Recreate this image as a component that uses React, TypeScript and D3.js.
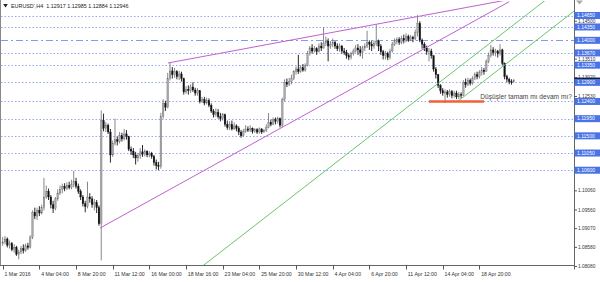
import React from 'react';
import * as d3 from 'd3';

const W = 600;
const H = 282;
const FONT = '"Liberation Sans", Arial, sans-serif';

// ---------- data (EURUSD H4) ----------
const firstOpen = 1.0868;
const closes = [
  1.0872, 1.0880, 1.0864, 1.0868, 1.0852, 1.0858, 1.0840, 1.0846, 1.0855, 1.0850,
  1.0862, 1.0858, 1.0885, 1.0950, 1.0940, 1.0955, 1.0948, 1.0962, 1.0990, 1.1005,
  1.0990, 1.0970, 1.0960, 1.0985, 1.1000, 1.1010, 1.1018, 1.1012, 1.1020, 1.1015,
  1.1022, 1.1030, 1.1018, 1.1005, 1.0990, 1.0972, 1.0965, 1.0990, 1.0985, 1.0970,
  1.0975, 1.0962, 1.0920, 1.1190, 1.1170, 1.1178, 1.1160, 1.1100, 1.1130, 1.1140,
  1.1135, 1.1150, 1.1142, 1.1155, 1.1148, 1.1115, 1.1110, 1.1100, 1.1092, 1.1098,
  1.1108, 1.1102, 1.1110, 1.1100, 1.1104, 1.1096, 1.1080, 1.1072, 1.1070, 1.1200,
  1.1235, 1.1225, 1.1300, 1.1320, 1.1310, 1.1318, 1.1305, 1.1312, 1.1300, 1.1265,
  1.1272, 1.1268, 1.1278, 1.1270, 1.1262, 1.1268, 1.1240, 1.1245, 1.1236, 1.1242,
  1.1230, 1.1215, 1.1205, 1.1212, 1.1200, 1.1195, 1.1205, 1.1180, 1.1172, 1.1180,
  1.1168, 1.1176, 1.1170, 1.1160, 1.1150, 1.1162, 1.1168, 1.1165, 1.1170, 1.1162,
  1.1166, 1.1160, 1.1168, 1.1160, 1.1164, 1.1172, 1.1185, 1.1180, 1.1192, 1.1188,
  1.1195, 1.1178, 1.1245, 1.1290, 1.1285, 1.1292, 1.1300, 1.1318, 1.1325, 1.1318,
  1.1328, 1.1322, 1.1335, 1.1365, 1.1380, 1.1372, 1.1378, 1.1370, 1.1385, 1.1380,
  1.1392, 1.1398, 1.1385, 1.1390, 1.1395, 1.1385, 1.1378, 1.1385, 1.1372, 1.1368,
  1.1360, 1.1356, 1.1365, 1.1372, 1.1380, 1.1375, 1.1368, 1.1380, 1.1385, 1.1395,
  1.1390, 1.1385, 1.1392, 1.1398, 1.1385, 1.1370, 1.1360, 1.1366, 1.1355, 1.1372,
  1.1390, 1.1396, 1.1402, 1.1395, 1.1405, 1.1400, 1.1410, 1.1402, 1.1408, 1.1404,
  1.1420, 1.1445, 1.1400, 1.1390, 1.1380, 1.1370, 1.1372, 1.1360, 1.1325, 1.1310,
  1.1282, 1.1268, 1.1262, 1.1265, 1.1258, 1.1266, 1.1255, 1.1262, 1.1252, 1.1258,
  1.1256, 1.1290, 1.1284, 1.1295, 1.1288, 1.1300, 1.1310, 1.1305, 1.1315, 1.1322,
  1.1318, 1.1345, 1.1360, 1.1375, 1.1368, 1.1372, 1.1365, 1.1375, 1.1340, 1.1305,
  1.1298, 1.1292, 1.12917, 1.12946,
];
const highs = [
  1.0885, 1.0888, 1.0884, 1.0876, 1.0872, 1.0866, 1.0862, 1.0852, 1.0862, 1.0866,
  1.0868, 1.0870, 1.0890, 1.0955, 1.0962, 1.0962, 1.0966, 1.0970, 1.1040, 1.1020,
  1.1012, 1.0995, 1.0980, 1.0990, 1.1010, 1.1020, 1.1025, 1.1026, 1.1028, 1.1030,
  1.1035, 1.1058, 1.1040, 1.1025, 1.1010, 1.0995, 1.0980, 1.1030, 1.1000, 1.0992,
  1.0985, 1.0982, 1.0968, 1.1216, 1.1208, 1.1186, 1.1182, 1.1168, 1.1138, 1.1195,
  1.1148, 1.1160, 1.1158, 1.1168, 1.1165, 1.1150, 1.1122, 1.1118, 1.1108, 1.1105,
  1.1118, 1.1126, 1.1115, 1.1112, 1.1110, 1.1108, 1.1100, 1.1088, 1.1082, 1.1210,
  1.1246, 1.1242, 1.1315, 1.1341, 1.1330, 1.1328, 1.1322, 1.1320, 1.1318, 1.1302,
  1.1280, 1.1282, 1.1285, 1.1290, 1.1276, 1.1275, 1.1270, 1.1252, 1.1252, 1.1250,
  1.1248, 1.1235, 1.1220, 1.1222, 1.1220, 1.1210, 1.1210, 1.1208, 1.1190, 1.1188,
  1.1190, 1.1185, 1.1180, 1.1175, 1.1165, 1.1168, 1.1178, 1.1175, 1.1178, 1.1172,
  1.1170, 1.1170, 1.1172, 1.1170, 1.1168, 1.1180, 1.1210, 1.1192, 1.1198, 1.1198,
  1.1200, 1.1198, 1.1250, 1.1298, 1.1300, 1.1302, 1.1310, 1.1322, 1.1332, 1.1362,
  1.1335, 1.1338, 1.1340, 1.1372, 1.1385, 1.1390, 1.1385, 1.1382, 1.1392, 1.1395,
  1.1435, 1.1410, 1.1405, 1.1398, 1.1405, 1.1398, 1.1392, 1.1392, 1.1388, 1.1380,
  1.1375, 1.1366, 1.1370, 1.1378, 1.1388, 1.1390, 1.1385, 1.1386, 1.1392, 1.1425,
  1.1400, 1.1398, 1.1400, 1.1442, 1.1402, 1.1390, 1.1375, 1.1372, 1.1370, 1.1378,
  1.1396, 1.1405, 1.1408, 1.1408, 1.1412, 1.1415, 1.1418, 1.1415, 1.1414, 1.1412,
  1.1428, 1.1466, 1.1450, 1.1405, 1.1395, 1.1386, 1.1380, 1.1378, 1.1360, 1.1330,
  1.1312, 1.1285, 1.1275, 1.1272, 1.1270, 1.1272, 1.1270, 1.1268, 1.1268, 1.1265,
  1.1264, 1.1296, 1.1300, 1.1302, 1.1300, 1.1306, 1.1316, 1.1318, 1.1322, 1.1330,
  1.1328, 1.1350, 1.1368, 1.1388, 1.1382, 1.1378, 1.1375, 1.1390, 1.1378, 1.1342,
  1.1310, 1.1302, 1.1298, 1.12985,
];
const lows = [
  1.0862, 1.0866, 1.0858, 1.0855, 1.0848, 1.0844, 1.0836, 1.0827, 1.0840, 1.0842,
  1.0846, 1.0852, 1.0855, 1.0880, 1.0932, 1.0930, 1.0940, 1.0944, 1.0955, 1.0985,
  1.0982, 1.0960, 1.0948, 1.0955, 1.0980, 1.0995, 1.1000, 1.1005, 1.1008, 1.1010,
  1.1010, 1.1015, 1.1012, 1.0998, 1.0982, 1.0965, 1.0950, 1.0960, 1.0975, 1.0962,
  1.0955, 1.0948, 1.0915, 1.0824, 1.1162, 1.1160, 1.1155, 1.1080, 1.1095, 1.1125,
  1.1125, 1.1130, 1.1135, 1.1138, 1.1140, 1.1110, 1.1100, 1.1092, 1.1075, 1.1082,
  1.1090, 1.1095, 1.1096, 1.1094, 1.1094, 1.1090, 1.1072, 1.1062, 1.1060, 1.1064,
  1.1195, 1.1215, 1.1222, 1.1295, 1.1300, 1.1302, 1.1298, 1.1296, 1.1292, 1.1258,
  1.1260, 1.1258, 1.1262, 1.1265, 1.1255, 1.1255, 1.1235, 1.1236, 1.1230, 1.1232,
  1.1225, 1.1210, 1.1198, 1.1200, 1.1195, 1.1188, 1.1190, 1.1174, 1.1166, 1.1165,
  1.1164, 1.1166, 1.1162, 1.1152, 1.1145, 1.1148, 1.1158, 1.1160, 1.1160, 1.1156,
  1.1158, 1.1155, 1.1156, 1.1155, 1.1158, 1.1160, 1.1170, 1.1175, 1.1178, 1.1180,
  1.1182, 1.1172, 1.1172, 1.1240, 1.1278, 1.1280, 1.1285, 1.1296, 1.1310, 1.1312,
  1.1315, 1.1318, 1.1318, 1.1332, 1.1360, 1.1365, 1.1368, 1.1362, 1.1368, 1.1372,
  1.1378, 1.1385, 1.1345, 1.1378, 1.1382, 1.1378, 1.1372, 1.1370, 1.1365, 1.1362,
  1.1352, 1.1348, 1.1350, 1.1360, 1.1368, 1.1362, 1.1358, 1.1352, 1.1372, 1.1380,
  1.1375, 1.1372, 1.1378, 1.1385, 1.1372, 1.1362, 1.1350, 1.1350, 1.1348, 1.1350,
  1.1368, 1.1385, 1.1390, 1.1388, 1.1390, 1.1392, 1.1395, 1.1396, 1.1398, 1.1395,
  1.1400, 1.1410, 1.1395, 1.1378, 1.1372, 1.1362, 1.1345, 1.1352, 1.1318, 1.1300,
  1.1275, 1.1260, 1.1255, 1.1236, 1.1250, 1.1252, 1.1248, 1.1250, 1.1246, 1.1246,
  1.1248, 1.1254, 1.1276, 1.1280, 1.1282, 1.1284, 1.1296, 1.1298, 1.1300, 1.1308,
  1.1310, 1.1318, 1.1340, 1.1355, 1.1360, 1.1358, 1.1355, 1.1360, 1.1335, 1.1298,
  1.1290, 1.1285, 1.1284, 1.12884,
];

const timeTickIndex = [0, 16, 32, 48, 64, 80, 96, 112, 128, 144, 160, 176, 192, 208];
const timeTickLabels = [
  '1 Mar 2016', '4 Mar 04:00', '8 Mar 20:00', '11 Mar 12:00', '16 Mar 00:00',
  '18 Mar 16:00', '23 Mar 04:00', '25 Mar 20:00', '30 Mar 12:00', '4 Apr 04:00',
  '6 Apr 20:00', '11 Apr 12:00', '14 Apr 04:00', '18 Apr 20:00',
];

// regular price-scale ticks that are visible (the others sit under level labels)
const priceTicks = [1.0808, 1.0858, 1.0907, 1.0956, 1.1006, 1.1253, 1.1302, 1.1351, 1.1450];
const priceTickLabels = ['1.08080', '1.08580', '1.09070', '1.09560', '1.10060', '1.12530',
  '1.13020', '1.13510', '1.14500'];

const levelPrices = [1.1465, 1.1435, 1.1400, 1.1367, 1.1335, 1.1290, 1.1240, 1.1195, 1.1150, 1.1105, 1.1060];
const levelLabels = ['1.14650', '1.14350', '1.14000', '1.13670', '1.13350', '1.12900',
  '1.12400', '1.11950', '1.11500', '1.11050', '1.10600'];
const levelStyles = ['dot', 'dot', 'dashdot', 'dot', 'dot', 'dot', 'dot', 'dot', 'dot', 'dot', 'dot'];

const lastPrice = 1.12946;
const titleText = "EURUSD',H4  1.12917 1.12985 1.12884 1.12946";

// trend lines: [barIndex, price] endpoints
const wedgeUpper = [[72.1, 1.13407], [219, 1.15046]];
const wedgeLower = [[42.5, 1.09087], [221, 1.15011]];
const channelA = [[85, 1.0799], [240, 1.1520]];
const channelB = [[198.5, 1.1240], [255, 1.1503]];
const supportLine = [[186, 1.1240], [210, 1.1240]];
const noteAnchor = [208.4, 1.12475];
const noteText = 'Düşüşler tamam mı devam mı?';

// ---------- component ----------
export default function App() {
  const x = d3.scaleLinear().domain([0, 208]).range([2.7, 479.4]);
  const y = d3.scaleLinear().domain([1.0808, 1.1465]).range([266.5, 15.5]);

  const plotL = 1, plotT = 1, plotR = 574.5, plotB = 265.5;

  const opens = closes.map((c, i) => (i === 0 ? firstOpen : closes[i - 1]));
  const candles = closes.map((c, i) => ({ i, o: opens[i], h: highs[i], l: lows[i], c }));

  const line = d3.line<number[]>().x((d) => x(d[0])).y((d) => y(d[1]));
  const bw = 1.6;

  return (
    <svg width={W} height={H} style={{ position: 'absolute', left: 0, top: 0, background: '#fff' }}
      fontFamily={FONT}>
      <defs>
        <clipPath id="plot">
          <rect x={plotL} y={plotT} width={plotR - plotL} height={plotB - plotT} />
        </clipPath>
      </defs>
      <rect x={0} y={0} width={W} height={H} fill="#fff" />

      <g clipPath="url(#plot)">
        {levelPrices.map((p, k) => (
          <line key={'lv' + k} x1={plotL} x2={plotR} y1={Math.round(y(p)) + 0.5} y2={Math.round(y(p)) + 0.5}
            stroke={levelStyles[k] === 'dashdot' ? '#7f9cf2' : '#93a9f2'}
            strokeWidth={1}
            strokeDasharray={levelStyles[k] === 'dashdot' ? '7 3 2 3' : '1.5 2'} />
        ))}

        {candles.map((d) => {
          const cx = x(d.i);
          const up = d.c >= d.o;
          const top = y(Math.max(d.o, d.c));
          const bot = y(Math.min(d.o, d.c));
          const hi = y(Math.max(d.h, d.o, d.c));
          const lo = y(Math.min(d.l, d.o, d.c));
          return (
            <g key={'c' + d.i}>
              <line x1={cx} x2={cx} y1={hi} y2={lo} stroke={up ? '#7a7a7a' : '#111'} strokeWidth={0.9} />
              <rect x={cx - bw / 2} y={top} width={bw} height={Math.max(0.8, bot - top)}
                fill={up ? '#a8a8a8' : '#111'} stroke={up ? '#6a6a6a' : '#111'} strokeWidth={0.3} />
            </g>
          );
        })}

        <path d={line(wedgeUpper) || ''} stroke="#c060d0" strokeWidth={1} fill="none" />
        <path d={line(wedgeLower) || ''} stroke="#c060d0" strokeWidth={1} fill="none" />
        <path d={line(channelA) || ''} stroke="#6cc46c" strokeWidth={1} fill="none" />
        <path d={line(channelB) || ''} stroke="#6cc46c" strokeWidth={1} fill="none" />
        <path d={line(supportLine) || ''} stroke="#f0603a" strokeWidth={2.4} fill="none" />

        <text x={x(noteAnchor[0])} y={y(noteAnchor[1])} fontSize={6.6} fill="#444">{noteText}</text>
      </g>

      {/* frame */}
      <line x1={0.5} x2={0.5} y1={0} y2={plotB} stroke="#888" />
      <line x1={plotR} x2={plotR} y1={0} y2={plotB + 4} stroke="#666" />
      <line x1={0} x2={plotR} y1={plotB} y2={plotB} stroke="#666" />

      {/* title */}
      <path d="M3.2,4 L7.8,4 L5.5,7.5 Z" fill="#222" />
      <text x={11} y={8.3} fontSize={5.4} fill="#222" style={{ whiteSpace: 'pre' }}>{titleText}</text>

      {/* shift marker */}
      <path d="M576,0.5 L583,0.5 L579.5,4.5 Z" fill="#aaa" />

      {/* time axis */}
      {timeTickIndex.map((t, k) => (
        <g key={'tt' + k}>
          <line x1={Math.round(x(t)) + 0.5} x2={Math.round(x(t)) + 0.5} y1={plotB} y2={plotB + 4} stroke="#555" />
          <text x={x(t) + 1.8} y={275.6} fontSize={5.2} fill="#333">{timeTickLabels[k]}</text>
        </g>
      ))}

      {/* price axis: regular ticks */}
      {priceTicks.map((p, k) => (
        <g key={'pt' + k}>
          <line x1={plotR} x2={plotR + 2.5} y1={y(p)} y2={y(p)} stroke="#555" />
          <text x={578} y={y(p) + 1.6} fontSize={4.8} fill="#333">{priceTickLabels[k]}</text>
        </g>
      ))}

      {/* current price marker (mostly hidden under the 1.12900 level label) */}
      <rect x={574.5} y={y(lastPrice) - 3} width={26} height={6} fill="#111" />

      {/* level labels */}
      {levelPrices.map((p, k) => (
        <g key={'ll' + k}>
          <rect x={574.5} y={y(p) - 3.5} width={26} height={7} fill="#4a74e6" />
          <text x={577} y={y(p) + 1.8} fontSize={5} fill="#fff">{levelLabels[k]}</text>
        </g>
      ))}
    </svg>
  );
}
